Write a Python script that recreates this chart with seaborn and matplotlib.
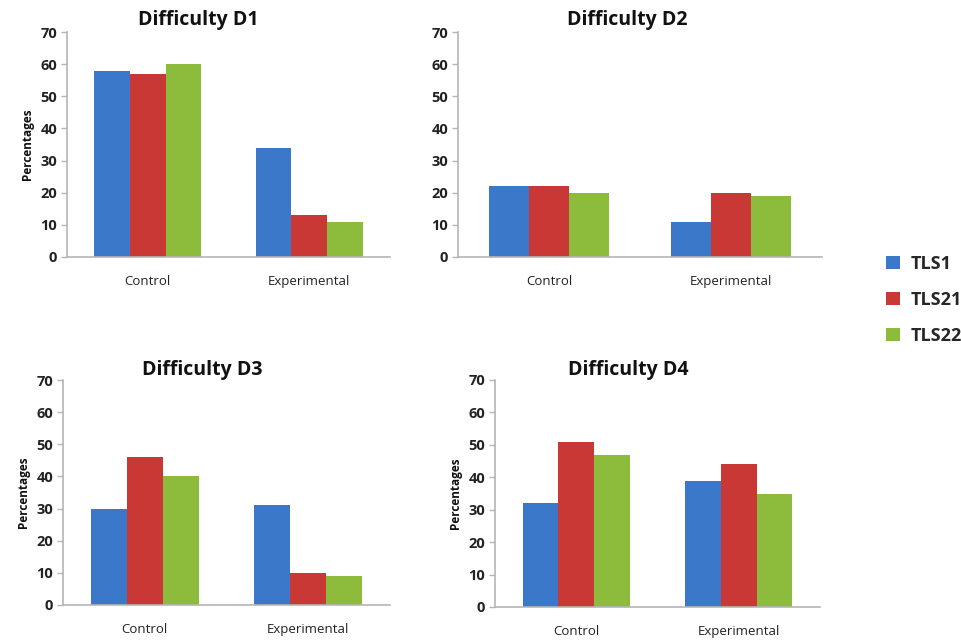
import matplotlib
matplotlib.use("Agg")
import matplotlib.pyplot as plt
import seaborn as sns
import pandas as pd

groups = ["Control", "Experimental"]
series = ["TLS1", "TLS21", "TLS22"]
d1 = {"TLS1": [58, 34], "TLS21": [57, 13], "TLS22": [60, 11]}
d2 = {"TLS1": [22, 11], "TLS21": [22, 20], "TLS22": [20, 19]}
d3 = {"TLS1": [30, 31], "TLS21": [46, 10], "TLS22": [40, 9]}
d4 = {"TLS1": [32, 39], "TLS21": [51, 44], "TLS22": [47, 35]}
titles = ["Difficulty D1", "Difficulty D2", "Difficulty D3", "Difficulty D4"]
yticks = [0, 10, 20, 30, 40, 50, 60, 70]
colors = ["#3b78c9", "#c93834", "#8dbb3c"]

sns.set_theme(style="white")
plt.rcParams['font.family'] = ['Open Sans', 'DejaVu Sans']

fig = plt.figure(figsize=(9.61, 6.41), dpi=100)

# axes rectangles [left, bottom, width, height]
rects = [
    [67/961, 1-257/641, (390-67)/961, (257-32)/641],
    [458/961, 1-257/641, (822-458)/961, (257-32)/641],
    [63/961, 1-605/641, (390-63)/961, (605-380)/641],
    [495/961, 1-607/641, (820-495)/961, (607-380)/641],
]
title_pos = [(198, 20), (627, 20), (202, 370), (628, 370)]
ylabel_show = [True, False, True, True]

datasets = [d1, d2, d3, d4]
axes = []
for i, d in enumerate(datasets):
    rows = []
    for s in series:
        for g, v in zip(groups, d[s]):
            rows.append({"group": g, "series": s, "value": v})
    df = pd.DataFrame(rows)
    ax = fig.add_axes(rects[i])
    sns.barplot(data=df, x="group", y="value", hue="series", hue_order=series,
                order=groups, palette=colors, width=0.66, gap=0, ax=ax,
                edgecolor="none", linewidth=0, saturation=1, legend=(i == 0))
    ax.set_ylim(0, 70)
    ax.set_yticks(yticks, labels=[str(t) for t in yticks], fontweight="bold",
                  fontsize=10.5, color="#222222")
    ax.set_xticks([0, 1], labels=groups, fontsize=9.5, color="#222222")
    ax.set_xlim(-0.5, 1.5)
    for sp in ["top", "right"]:
        ax.spines[sp].set_visible(False)
    for sp in ["left", "bottom"]:
        ax.spines[sp].set_color("#b5b5b5")
        ax.spines[sp].set_linewidth(1.2)
    ax.tick_params(axis="y", length=4, color="#b5b5b5", width=1, pad=3, left=True)
    ax.tick_params(axis="x", length=0, pad=13)
    ax.set_xlabel("")
    if ylabel_show[i]:
        ax.set_ylabel("Percentages", fontsize=8.5, fontweight="bold", labelpad=5, color="#111111")
    else:
        ax.set_ylabel("")
    tx, ty = title_pos[i]
    fig.text(tx/961, 1-ty/641, titles[i], ha="center", va="center",
             fontsize=14, fontweight="bold", color="#111111")
    axes.append(ax)

handles, labels = axes[0].get_legend_handles_labels()
axes[0].get_legend().remove()
fig.legend(handles, labels, loc="center left", bbox_to_anchor=(870/961, 1-300/641),
           frameon=False, handlelength=0.75, handleheight=0.75,
           labelspacing=1.0, handletextpad=0.6, prop={"weight": "bold", "size": 13})

fig.savefig("out.png", dpi=100)
